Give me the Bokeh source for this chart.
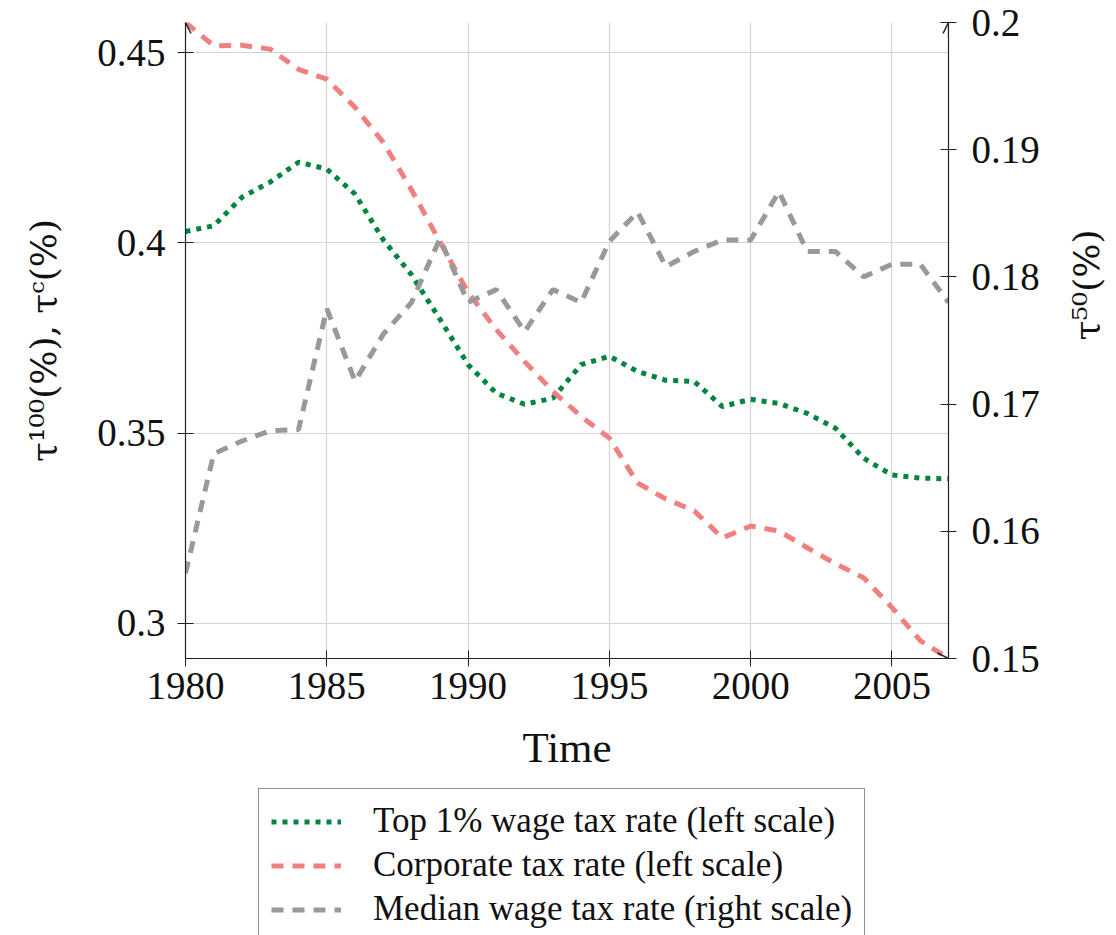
import math
from bokeh.plotting import figure
from bokeh.layouts import column
from bokeh.models import (Range1d, LinearAxis, FixedTicker, CustomJSTickFormatter,
                          Legend, LegendItem, Arrow, OpenHead)
from bokeh.embed import file_html
from bokeh.resources import INLINE

years = list(range(1980, 2008))
top1 = [0.403, 0.4045, 0.412, 0.416, 0.4212, 0.4194, 0.4128, 0.4008, 0.3916, 0.380,
        0.368, 0.3605, 0.3576, 0.3592, 0.368, 0.3702, 0.3662, 0.3639, 0.3636, 0.357,
        0.3589, 0.3578, 0.3552, 0.3513, 0.3434, 0.339, 0.3382, 0.338]
corp = [0.4579, 0.4518, 0.4519, 0.4509, 0.4456, 0.443, 0.4356, 0.4264, 0.4139, 0.4003,
        0.387, 0.3772, 0.3688, 0.361, 0.3544, 0.3487, 0.3369, 0.3327, 0.3296, 0.3225,
        0.3256, 0.3243, 0.3199, 0.3157, 0.312, 0.3042, 0.2955, 0.2908]
median = [0.1567, 0.1661, 0.1671, 0.1679, 0.168, 0.1775, 0.1718, 0.1755, 0.178, 0.183,
          0.178, 0.179, 0.1757, 0.179, 0.178, 0.1828, 0.1851, 0.1808, 0.182, 0.1829,
          0.1829, 0.1867, 0.182, 0.182, 0.18, 0.181, 0.181, 0.178]

x_ticks = [1980, 1985, 1990, 1995, 2000, 2005]
left_ticks = [0.3, 0.35, 0.4, 0.45]
right_ticks = [0.15, 0.16, 0.17, 0.18, 0.19, 0.2]
right_lim = (0.15, 0.2)

labels = ["Top 1% wage tax rate (left scale)",
          "Corporate tax rate (left scale)",
          "Median wage tax rate (right scale)"]

FONT = "Liberation Serif"
LBLFONT = "DejaVu Serif"
GREEN = "#00853f"
RED = "#f08080"
GRAY = "#999999"
AXC = "#222222"
STYLES = [dict(line_color=GREEN, line_width=5, line_dash="5 6"),
          dict(line_color=RED, line_width=5, line_dash="12 9"),
          dict(line_color=GRAY, line_width=5, line_dash="12 9")]

x0, x1 = years[0], years[-1]
y0, y1 = min(corp), max(corp)

TOTAL_W, TOTAL_H = 1116, 935
LEFT, TOP, FH, BOT = 185, 22, 636, 125
p = figure(frame_width=763, frame_height=FH,
           min_border_left=LEFT, min_border_right=168,
           min_border_top=TOP, min_border_bottom=BOT,
           x_range=Range1d(x0, x1), y_range=Range1d(y0, y1),
           output_backend="svg", toolbar_location=None,
           background_fill_color="white", border_fill_color="white")
p.outline_line_color = None
p.extra_y_ranges = {"right": Range1d(*right_lim)}

fmt = CustomJSTickFormatter(code="return String(Math.round(tick*1000)/1000);")

def style_axis(ax):
    ax.axis_line_color = AXC
    ax.axis_line_width = 1.2
    ax.major_tick_line_color = AXC
    ax.major_tick_in = 8
    ax.major_tick_out = 8
    ax.minor_tick_line_color = None
    ax.major_label_text_font = FONT
    ax.major_label_text_font_size = "39px"
    ax.major_label_text_color = "#111111"
    ax.axis_label_text_font = FONT
    ax.axis_label_text_font_size = "43px"
    ax.axis_label_text_font_style = "normal"
    ax.axis_label_text_color = "#111111"

xa = p.xaxis[0]
xa.ticker = FixedTicker(ticks=x_ticks)
xa.axis_label = "Time"
style_axis(xa)
xa.major_label_standoff = 6
xa.axis_label_standoff = 22

ya = p.yaxis[0]
ya.ticker = FixedTicker(ticks=left_ticks)
ya.formatter = fmt
ya.axis_label = "τ¹⁰⁰(%), τᶜ(%)"
style_axis(ya)
ya.axis_label_text_font = LBLFONT
ya.axis_label_text_font_size = "36px"
ya.major_label_standoff = 12
ya.axis_label_standoff = 30

ra = LinearAxis(y_range_name="right", ticker=FixedTicker(ticks=right_ticks),
                formatter=fmt, axis_label="τ⁵⁰(%)")
style_axis(ra)
ra.axis_label_text_font = LBLFONT
ra.axis_label_text_font_size = "36px"
ra.major_label_standoff = 15
ra.axis_label_standoff = 44
try:
    ra.axis_label_orientation = math.pi / 2
except Exception:
    pass
p.add_layout(ra, "right")

p.xgrid.ticker = FixedTicker(ticks=x_ticks)
p.ygrid.ticker = FixedTicker(ticks=left_ticks)
for g in (p.xgrid[0], p.ygrid[0]):
    g.grid_line_color = "#d4d4d4"
    g.grid_line_width = 1.2

r1 = p.line(years, top1, **STYLES[0])
r2 = p.line(years, corp, **STYLES[1])
r3 = p.line(years, median, y_range_name="right", **STYLES[2])

# axis arrow heads
p.add_layout(Arrow(x_start=x0, y_start=y1 - 0.004, x_end=x0, y_end=y1,
                   line_color=AXC, line_width=1.2,
                   end=OpenHead(size=11, line_color=AXC, line_width=1.5)))
p.add_layout(Arrow(x_start=x1, y_start=y1 - 0.004, x_end=x1, y_end=y1,
                   line_color=AXC, line_width=1.2,
                   end=OpenHead(size=11, line_color=AXC, line_width=1.5)))
p.add_layout(Arrow(x_start=x1 - 0.4, y_start=y0, x_end=x1, y_end=y0,
                   line_color=AXC, line_width=1.2,
                   end=OpenHead(size=11, line_color=AXC, line_width=1.5)))

# legend panel below the chart (its frame is aligned with the chart's frame);
# the series are re-plotted there outside its view, only to feed the legend glyphs
LH = TOTAL_H - (TOP + FH + BOT)
q = figure(width=TOTAL_W, height=LH, min_border=0,
           x_range=Range1d(0, 1), y_range=Range1d(0, 1),
           output_backend="svg", toolbar_location=None,
           background_fill_color="white", border_fill_color="white")
q.axis.visible = False
q.grid.visible = False
q.outline_line_color = None
proxies = [q.line(years, vals, **s) for vals, s in zip([top1, corp, median], STYLES)]

LEG_H = 149
legend = Legend(items=[LegendItem(label=lab, renderers=[d]) for lab, d in zip(labels, proxies)],
                location=(258 - LEFT, LH - (793 - (TOP + FH + BOT)) - LEG_H),
                orientation="vertical",
                padding=12, margin=0, spacing=4,
                glyph_width=70, glyph_height=39, label_height=39,
                label_standoff=32,
                label_text_font=FONT, label_text_font_size="35px",
                label_text_color="#111111",
                border_line_color=AXC, border_line_width=1.2,
                background_fill_color="white", background_fill_alpha=1.0)
q.add_layout(legend, "center")

layout = column(p, q, spacing=0)
open("out.html", "w").write(file_html(layout, INLINE))
